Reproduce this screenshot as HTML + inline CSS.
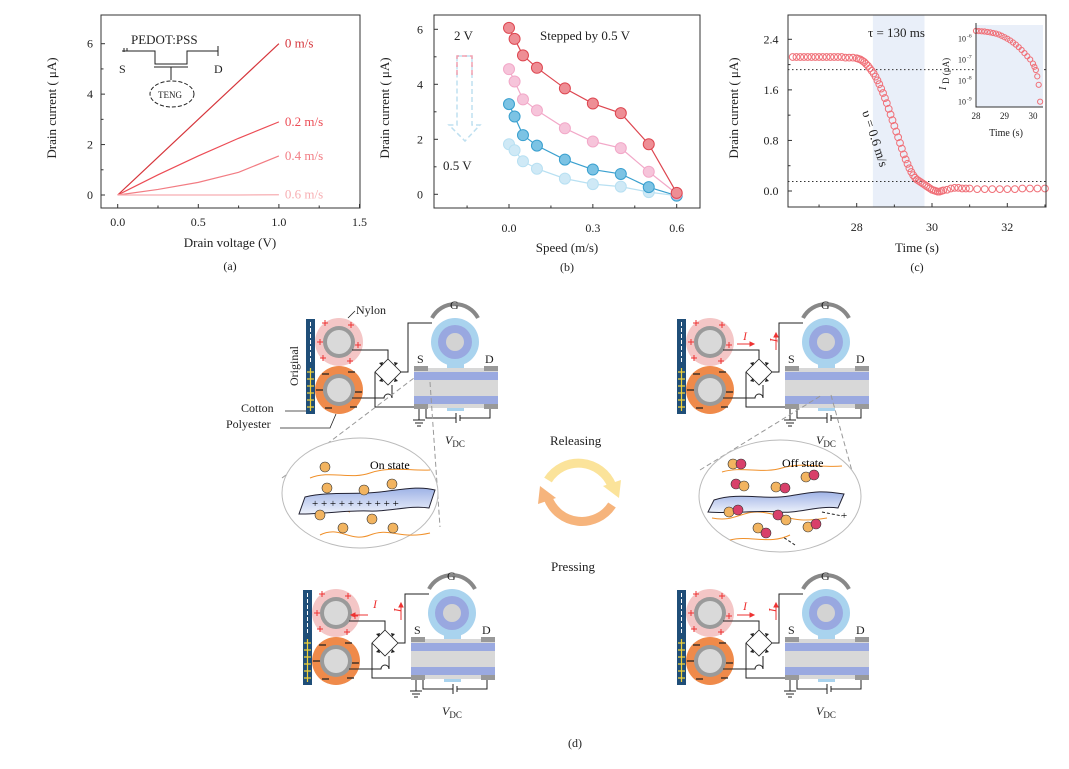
<!DOCTYPE html>
<html><head><meta charset="utf-8"><style>
html,body{margin:0;padding:0;background:#fff;}
svg{display:block;font-family:"Liberation Serif",serif;}
</style></head><body>
<svg id="fig" width="1069" height="769" viewBox="0 0 1069 769" xmlns="http://www.w3.org/2000/svg">
<defs>
<linearGradient id="rib" x1="0" y1="0" x2="0" y2="1"><stop offset="0" stop-color="#9fb3e6"/><stop offset="1" stop-color="#eef2fb"/></linearGradient>
<g id="unit">
  <rect x="306" y="319" width="9" height="95" fill="#1f4e78"/>
  <line x1="310.5" y1="322" x2="310.5" y2="364" stroke="#fff" stroke-width="1" stroke-dasharray="4,2"/>
  <path d="M310.5 368V411M307 372h7M307 379h7M307 386h7M307 393h7M307 400h7M307 407h7" stroke="#f2d33a" stroke-width="1.2"/>
  <circle cx="339" cy="342" r="24" fill="#f4c6c6"/><circle cx="339" cy="342" r="16" fill="#9a9a9a"/><circle cx="339" cy="342" r="12" fill="#d9d9d9"/>
  <path d="M322 323h6M325 320v6M348 325h6M351 322v6M317 342h6M320 339v6M355 345h6M358 342v6M320 358h6M323 355v6M347 361h6M350 358v6" stroke="#e33" stroke-width="1"/>
  <circle cx="339" cy="390" r="24" fill="#ef8a4a"/><circle cx="339" cy="390" r="16" fill="#9a9a9a"/><circle cx="339" cy="390" r="12" fill="#d9d9d9"/>
  <path d="M322 374h7M348 372h7M316 390h7M355 392h7M325 408h7M350 407h7" stroke="#222" stroke-width="1.3"/>
  <path d="M352 350H388V359M352 398H384a4 4 0 0 1 8 0V385M375 372V407H414M401 372H408V323H432" stroke="#222" stroke-width="1" fill="none"/>
  <path d="M388 359L401 372L388 385L375 372Z" stroke="#222" stroke-width="0.8" fill="none"/>
  <path d="M379 363l4 -1 -1 4zM394 362l4 1 -3 3zM379 381l4 1 -1 -4zM394 382l4 -1 -3 -3z" fill="#222"/>
  <path d="M432 318A26 26 0 0 1 478 318" stroke="#888" stroke-width="4" fill="none"/>
  <circle cx="455" cy="342" r="24" fill="#a9d3ee"/><circle cx="455" cy="342" r="17" fill="#99a8e0"/><circle cx="455" cy="342" r="9" fill="#d3d3d3"/>
  <rect x="447" y="364" width="17" height="8" fill="#a9d3ee"/>
  <rect x="447" y="404" width="17" height="7" fill="#a9d3ee"/>
  <rect x="414" y="368" width="84" height="40" fill="#d8d8d8"/>
  <rect x="414" y="372" width="84" height="8" fill="#9aa9e0"/>
  <rect x="414" y="396" width="84" height="8" fill="#9aa9e0"/>
  <rect x="414" y="366" width="14" height="5" fill="#999"/><rect x="484" y="366" width="14" height="5" fill="#999"/>
  <rect x="414" y="404" width="14" height="5" fill="#999"/><rect x="484" y="404" width="14" height="5" fill="#999"/>
  <path d="M419 409V420M413 420h12M415 423h8M417 426h4M426 409V418H456M460 418H490V409M456 413v10M460 415v6" stroke="#222" stroke-width="1" fill="none"/>
</g>
</defs>

<use href="#unit"/>
<use href="#unit" transform="translate(371,0)"/>
<use href="#unit" transform="translate(-3,271)"/>
<use href="#unit" transform="translate(371,271)"/>

<g font-size="12" fill="#222">
  <text x="417" y="363">S</text><text x="485" y="363">D</text><text x="450" y="309">G</text>
  <text x="788" y="363">S</text><text x="856" y="363">D</text><text x="821" y="309">G</text>
  <text x="414" y="634">S</text><text x="482" y="634">D</text><text x="447" y="580">G</text>
  <text x="788" y="634">S</text><text x="856" y="634">D</text><text x="821" y="580">G</text>
  <text x="445" y="444" font-style="italic">V<tspan font-size="9" font-style="normal" dy="3">DC</tspan></text>
  <text x="816" y="444" font-style="italic">V<tspan font-size="9" font-style="normal" dy="3">DC</tspan></text>
  <text x="442" y="715" font-style="italic">V<tspan font-size="9" font-style="normal" dy="3">DC</tspan></text>
  <text x="816" y="715" font-style="italic">V<tspan font-size="9" font-style="normal" dy="3">DC</tspan></text>
  <text x="356" y="314">Nylon</text>
  <text x="241" y="412">Cotton</text>
  <text x="226" y="428">Polyester</text>
  <text transform="translate(298,386) rotate(-90)">Original</text>
</g>
<path d="M348 318L355 311M285 411H306M280 428H330L336 414" stroke="#222" stroke-width="0.8" fill="none"/>

<g stroke="#e33" fill="#e33" stroke-width="1" font-size="12" font-style="italic">
  <path d="M737 344H754" /><path d="M754 344l-4 -2v4z"/><text x="743" y="340" stroke="none">I</text>
  <path d="M776 350V333"/><path d="M776 333l-2 4h4z"/><text transform="translate(770,338) rotate(90)" stroke="none">I</text>
  <path d="M368 615H351"/><path d="M351 615l4 -2v4z"/><text x="373" y="608" stroke="none">I</text>
  <path d="M401 620V603"/><path d="M401 603l-2 4h4z"/><text transform="translate(394,608) rotate(90)" stroke="none">I</text>
  <path d="M737 615H754"/><path d="M754 615l-4 -2v4z"/><text x="743" y="610" stroke="none">I</text>
  <path d="M776 620V603"/><path d="M776 603l-2 4h4z"/><text transform="translate(769,608) rotate(90)" stroke="none">I</text>
</g>

<g>
  <path d="M282 478L414 378M430 382L440 527" stroke="#999" stroke-dasharray="5,3" fill="none"/>
  <ellipse cx="360" cy="493" rx="78" ry="55" fill="#fff" stroke="#bbb"/>
  <path d="M310 478c20 -8 40 2 60 -5s40 -2 60 -3M320 535c20 -10 30 8 50 0s30 5 60 -2M300 512c20 -2 30 -8 50 0" stroke="#f0902a" fill="none"/>
  <path d="M305 497c25 -6 50 -2 75 -5s40 -6 55 -2l-6 18c-20 -3 -40 4 -60 3s-45 3 -70 3z" fill="url(#rib)" stroke="#223"/>
  <text x="312" y="507" font-size="11">+ + + + + + + + + +</text>
  <text x="370" y="469" font-size="12">On state</text>
  <g fill="#f2b460" stroke="#333" stroke-width="0.6">
    <circle cx="325" cy="467" r="5"/><circle cx="327" cy="488" r="5"/><circle cx="364" cy="490" r="5"/><circle cx="392" cy="484" r="5"/>
    <circle cx="320" cy="515" r="5"/><circle cx="343" cy="528" r="5"/><circle cx="372" cy="519" r="5"/><circle cx="393" cy="528" r="5"/>
  </g>
</g>
<g>
  <path d="M700 470L822 395M831 395L860 500" stroke="#999" stroke-dasharray="5,3" fill="none"/>
  <ellipse cx="780" cy="496" rx="81" ry="56" fill="#fff" stroke="#bbb"/>
  <path d="M722 472c20 -6 40 2 60 -4s40 0 60 -2M712 518c25 5 30 -10 55 -5s30 10 60 5M730 540c20 -5 40 5 60 -5" stroke="#f0902a" fill="none"/>
  <path d="M714 500c25 -8 50 0 75 -4s30 -6 55 -2l-6 14c-20 -3 -40 6 -60 4s-45 2 -70 0z" fill="url(#rib)" stroke="#223"/>
  <text x="782" y="467" font-size="12">Off state</text>
  <path d="M822 512l20 4M795 545l-12 -8" stroke="#222" stroke-dasharray="3,2" fill="none"/>
  <text x="841" y="519" font-size="11">+</text>
  <g stroke="#333" stroke-width="0.6">
    <circle cx="733" cy="464" r="5" fill="#f2b460"/><circle cx="741" cy="464" r="5" fill="#d8406a"/>
    <circle cx="736" cy="484" r="5" fill="#d8406a"/><circle cx="744" cy="486" r="5" fill="#f2b460"/>
    <circle cx="776" cy="487" r="5" fill="#f2b460"/><circle cx="785" cy="488" r="5" fill="#d8406a"/>
    <circle cx="806" cy="477" r="5" fill="#f2b460"/><circle cx="814" cy="475" r="5" fill="#d8406a"/>
    <circle cx="729" cy="512" r="5" fill="#f2b460"/><circle cx="738" cy="510" r="5" fill="#d8406a"/>
    <circle cx="778" cy="515" r="5" fill="#d8406a"/><circle cx="786" cy="520" r="5" fill="#f2b460"/>
    <circle cx="758" cy="528" r="5" fill="#f2b460"/><circle cx="766" cy="533" r="5" fill="#d8406a"/>
    <circle cx="808" cy="527" r="5" fill="#f2b460"/><circle cx="816" cy="524" r="5" fill="#d8406a"/>
  </g>
</g>

<g>
  <path d="M548 480A36 36 0 0 1 612 486" stroke="#fbe39a" stroke-width="9" fill="none"/>
  <path d="M603 486l18 -6 -2 18z" fill="#fbe39a"/>
  <path d="M612 505A36 36 0 0 1 548 498" stroke="#f6b47c" stroke-width="9" fill="none"/>
  <path d="M556 498l-18 6 2 -18z" fill="#f6b47c"/>
  <text x="550" y="445" font-size="13" fill="#222">Releasing</text>
  <text x="551" y="571" font-size="13" fill="#222">Pressing</text>
  <text x="568" y="747" font-size="12" fill="#222">(d)</text>
</g>

<g id="charts"></g>
</svg>
<script>
const aVolt = [0, 0.25, 0.5, 0.75, 1.0];
const aS0 = [0, 1.5, 3.0, 4.5, 6.0];
const aS02 = [0, 0.8, 1.55, 2.25, 2.9];
const aS04 = [0, 0.22, 0.5, 0.9, 1.55];
const aS06 = [0, 0, 0, 0, 0.01];
const aLabels = ["0 m/s", "0.2 m/s", "0.4 m/s", "0.6 m/s"];
const aXTicks = [0.0, 0.5, 1.0, 1.5];
const aYTicks = [0, 2, 4, 6];
const bSpeed = [0, 0.02, 0.05, 0.1, 0.2, 0.3, 0.4, 0.5, 0.6];
const b2V = [6.05, 5.65, 5.05, 4.6, 3.85, 3.3, 2.95, 1.82, 0.05];
const b15V = [4.55, 4.1, 3.45, 3.05, 2.4, 1.92, 1.68, 0.82, 0.02];
const b1V = [3.28, 2.83, 2.15, 1.77, 1.26, 0.9, 0.74, 0.26, -0.05];
const b05V = [1.82, 1.6, 1.2, 0.93, 0.57, 0.37, 0.28, 0.08, -0.05];
const bXTicks = [0.0, 0.3, 0.6];
const bYTicks = [0, 2, 4, 6];
const cTime = [26.3,26.4,26.5,26.6,26.7,26.8,26.9,27.0,27.1,27.2,27.3,27.4,27.5,27.6,27.7,27.8,27.9,28.0,
28.05,28.1,28.15,28.2,28.25,28.3,28.35,28.4,28.45,28.5,28.55,28.6,28.65,28.7,28.75,28.8,28.85,28.9,28.95,29.0,
29.05,29.1,29.15,29.2,29.25,29.3,29.35,29.4,29.45,29.5,29.55,29.6,29.65,29.7,29.75,29.8,29.85,29.9,29.95,30.0,
30.05,30.1,30.15,30.2,30.25,30.3,30.4,30.5,30.6,30.7,30.8,30.9,31.0,31.2,31.4,31.6,31.8,32.0,32.2,32.4,32.6,32.8,33.0];
const cCurrent = [2.12,2.12,2.12,2.12,2.12,2.12,2.12,2.12,2.12,2.12,2.12,2.12,2.12,2.12,2.11,2.11,2.11,2.10,
2.09,2.08,2.06,2.04,2.01,1.98,1.94,1.90,1.86,1.81,1.75,1.69,1.62,1.55,1.47,1.39,1.30,1.21,1.12,1.03,
0.94,0.85,0.76,0.67,0.58,0.50,0.43,0.36,0.30,0.25,0.21,0.18,0.16,0.14,0.12,0.10,0.08,0.06,0.04,0.02,
0.01,0.0,-0.01,-0.01,0.0,0.01,0.02,0.04,0.05,0.05,0.04,0.04,0.04,0.03,0.03,0.03,0.03,0.03,0.03,0.04,0.04,0.04,0.04];
const cXTicks = [28, 30, 32];
const cYTicks = [0.0, 0.8, 1.6, 2.4];
const cThresh = [1.92, 0.15];
const cShade = [28.43, 29.8];
const iTime = [28.0,28.1,28.2,28.3,28.4,28.5,28.6,28.7,28.8,28.9,29.0,29.1,29.2,29.3,29.4,29.5,29.6,29.7,29.8,29.9,30.0,30.05,30.1,30.15,30.2,30.25];
const iLog = [-5.65,-5.66,-5.67,-5.68,-5.7,-5.72,-5.75,-5.78,-5.82,-5.88,-5.95,-6.02,-6.1,-6.2,-6.3,-6.42,-6.55,-6.7,-6.85,-7.0,-7.2,-7.35,-7.5,-7.8,-8.2,-9.0];
const iXTicks = [28, 29, 30];
const iYTicks = [-6, -7, -8, -9];

const NS = "http://www.w3.org/2000/svg";
const root = document.getElementById("charts");
function mk(tag, attrs, parent) {
  const e = document.createElementNS(NS, tag);
  for (const k in attrs) e.setAttribute(k, attrs[k]);
  (parent || root).appendChild(e);
  return e;
}
function txt(s, x, y, attrs, parent) {
  const t = mk("text", Object.assign({x: x, y: y, "font-size": 12, fill: "#222"}, attrs || {}), parent);
  t.textContent = s;
  return t;
}
function lin(d0, d1, r0, r1) { return v => r0 + (v - d0) * (r1 - r0) / (d1 - d0); }

(function () {
  const g = mk("g", {});
  
  
  const X = lin(0, 1.5, 117.7, 359.5), Y = lin(0, 6, 195, 43.7);
  const fr = mk("rect", {x: 101, y: 15, width: 259, height: 193, fill: "none", stroke: "#333", "stroke-width": 1}, g);
  
  
  for (let v = 0; v <= 1.5001; v += 0.25) {
    const t = mk("line", {x1: X(v), x2: X(v), y1: 208, y2: aXTicks.some(q => Math.abs(q - v) < 1e-6) ? 204 : 205.5, stroke: "#333"}, g);
    
    
  }
  aXTicks.forEach(v => { const t = txt(v.toFixed(1), X(v), 226, {"text-anchor": "middle"}, g);   });
  for (let v = 0; v <= 6; v += 1) {
    const t = mk("line", {x1: 101, x2: v % 2 === 0 ? 105 : 103.5, y1: Y(v), y2: Y(v), stroke: "#333"}, g);
    
    
  }
  aYTicks.forEach(v => { const t = txt(String(v), 90, Y(v) + 4, {"text-anchor": "middle"}, g);   });
  const xl = txt("Drain voltage (V)", 230, 247, {"text-anchor": "middle", "font-size": 13}, g);
  
  
  const yl = txt("Drain current ( μA)", 0, 0, {"text-anchor": "middle", "font-size": 13, transform: "translate(56,108) rotate(-90)"}, g);
  
  
  const pl = txt("(a)", 230, 270, {"text-anchor": "middle"}, g);
  
  
  const series = [aS0, aS02, aS04, aS06];
  const cols = ["#d6363c", "#ec4c55", "#f27c83", "#f7aeb2"];
  series.forEach((s, i) => {
    const p = mk("polyline", {points: s.map((v, j) => X(aVolt[j]) + "," + Y(v)).join(" "), fill: "none", stroke: cols[i], "stroke-width": 1.2}, g);
    
    
    const l = txt(aLabels[i], X(1.0) + 6, Y(s[s.length - 1]) + 4, {fill: cols[i], "font-size": 13}, g);
    
    
  });
  const sc = mk("path", {d: "M124 52V48M122 51h5V48M124 51H155V64H187V51H218M218 46V56M154 67H188M171 67V80", stroke: "#222", fill: "none", "stroke-width": 1}, g);
  
  
  const el = mk("ellipse", {cx: 172, cy: 94, rx: 22, ry: 13, fill: "none", stroke: "#222", "stroke-dasharray": "4,2"}, g);
  
  
  [["PEDOT:PSS", 131, 44, 13], ["S", 119, 73, 12], ["D", 214, 73, 12], ["TENG", 158, 98, 9]].forEach(a => {
    const t = txt(a[0], a[1], a[2], {"font-size": a[3]}, g);
    
    
  });
})();

(function () {
  const g = mk("g", {});
  
  
  const X = lin(0, 0.6, 509, 676.7), Y = lin(0, 6, 194.3, 29.3);
  const fr = mk("rect", {x: 434, y: 15, width: 266, height: 193, fill: "none", stroke: "#333"}, g);
  
  
  for (let k = -1; k <= 4; k++) {
    const v = k * 0.15;
    const t = mk("line", {x1: X(v), x2: X(v), y1: 208, y2: k % 2 === 0 ? 204 : 205.5, stroke: "#333"}, g);
    
    
  }
  bXTicks.forEach(v => { const t = txt(v.toFixed(1), X(v), 232, {"text-anchor": "middle"}, g);   });
  for (let v = 0; v <= 6; v++) {
    const t = mk("line", {x1: 434, x2: v % 2 === 0 ? 438 : 436.5, y1: Y(v), y2: Y(v), stroke: "#333"}, g);
    
    
  }
  bYTicks.forEach(v => { const t = txt(String(v), 420, Y(v) + 4, {"text-anchor": "middle"}, g);   });
  const xl = txt("Speed (m/s)", 567, 252, {"text-anchor": "middle", "font-size": 13}, g);
  
  
  const yl = txt("Drain current ( μA)", 0, 0, {"text-anchor": "middle", "font-size": 13, transform: "translate(389,108) rotate(-90)"}, g);
  
  
  const pl = txt("(b)", 567, 271, {"text-anchor": "middle"}, g);
  
  
  const series = [b05V, b1V, b15V, b2V];
  const names = ["0.5V", "1V", "1.5V", "2V"];
  const lc = ["#b8e0f2", "#3aa0cf", "#f2a8c8", "#dd4650"];
  const fc = ["#cfe9f6", "#7cc3e4", "#f6c4da", "#ee8e95"];
  series.forEach((s, i) => {
    const p = mk("polyline", {points: s.map((v, j) => X(bSpeed[j]) + "," + Y(v)).join(" "), fill: "none", stroke: lc[i], "stroke-width": 1.2}, g);
    
    
    s.forEach((v, j) => {
      const c = mk("circle", {cx: X(bSpeed[j]), cy: Y(v), r: 5.5, fill: fc[i], stroke: lc[i], "stroke-width": 1}, g);
      
      
    });
  });
  const t1 = txt("Stepped by 0.5 V", 540, 40, {"font-size": 13}, g);
  
  
  const t2 = txt("2 V", 454, 40, {"font-size": 13}, g);
  
  
  const t3 = txt("0.5 V", 443, 170, {"font-size": 13}, g);
  
  
  const ar = mk("path", {d: "M457 56H472V125H480L465 141L449 125H457Z", fill: "none", stroke: "#bfe0f0", "stroke-width": 1.5, "stroke-dasharray": "5,3"}, g);
  
  
  const ar2 = mk("path", {d: "M457 75V56H472V75", fill: "none", stroke: "#f2a0b0", "stroke-width": 1.5, "stroke-dasharray": "5,3"}, g);
  
  
})();

(function () {
  const g = mk("g", {});
  
  
  const X = lin(28, 32, 856.7, 1007.3), Y = lin(0, 2.4, 191, 39.3);
  const sh = mk("rect", {x: X(cShade[0]), y: 15, width: X(cShade[1]) - X(cShade[0]), height: 192, fill: "#e9eff9"}, g);
  
  
  cThresh.forEach(v => {
    const l = mk("line", {x1: 788, x2: 1046, y1: Y(v), y2: Y(v), stroke: "#333", "stroke-dasharray": "1.5,2.5"}, g);
    
    
  });
  cTime.forEach((t, j) => {
    const c = mk("circle", {cx: X(t), cy: Y(cCurrent[j]), r: 3.4, fill: "none", stroke: "#f07078", "stroke-width": 1}, g);
    
    
  });
  const fr = mk("rect", {x: 788, y: 15, width: 258, height: 192, fill: "none", stroke: "#333"}, g);
  
  
  for (let v = 27; v <= 33; v++) {
    const t = mk("line", {x1: X(v), x2: X(v), y1: 207, y2: v % 2 === 0 ? 203 : 204.5, stroke: "#333"}, g);
    
    
  }
  cXTicks.forEach(v => { const t = txt(String(v), X(v), 231, {"text-anchor": "middle"}, g);   });
  for (let k = 0; k <= 6; k++) {
    const v = k * 0.4;
    const t = mk("line", {x1: 788, x2: k % 2 === 0 ? 792 : 790.5, y1: Y(v), y2: Y(v), stroke: "#333"}, g);
    
    
  }
  cYTicks.forEach(v => { const t = txt(v.toFixed(1), 771, Y(v) + 4, {"text-anchor": "middle"}, g);   });
  const xl = txt("Time (s)", 917, 252, {"text-anchor": "middle", "font-size": 13}, g);
  
  
  const yl = txt("Drain current ( μA)", 0, 0, {"text-anchor": "middle", "font-size": 13, transform: "translate(738,108) rotate(-90)"}, g);
  
  
  const pl = txt("(c)", 917, 271, {"text-anchor": "middle"}, g);
  
  
  const tau = txt("τ = 130 ms", 868, 37, {"font-size": 13}, g);
  
  
  const sp = txt("υ = 0.6 m/s", 0, 0, {"font-size": 13, transform: "translate(862,112) rotate(72)"}, g);
  
  
  const IX = lin(28, 30, 976, 1033), IY = lin(-6, -9, 38.3, 101.7);
  const ib = mk("rect", {x: 976, y: 25, width: 67, height: 82, fill: "#e9eff9"}, g);
  
  
  iTime.forEach((t, j) => {
    const c = mk("circle", {cx: IX(t), cy: IY(iLog[j]), r: 2.6, fill: "none", stroke: "#f07078", "stroke-width": 1}, g);
    
    
  });
  const ax = mk("path", {d: "M976 23V107H1043", fill: "none", stroke: "#333"}, g);
  
  
  iXTicks.forEach(v => {
    const t = txt(String(v), IX(v), 119, {"text-anchor": "middle", "font-size": 9}, g);
    
    
  });
  iYTicks.forEach(v => {
    const t = txt("10", 958, IY(v) + 3, {"font-size": 8}, g);
    
    
    const e = txt(String(v), 967, IY(v) - 1, {"font-size": 5.5}, g);
    
    
  });
  const ixl = txt("Time (s)", 1006, 136, {"text-anchor": "middle", "font-size": 10}, g);
  
  
  const iyl = txt("I", 0, 0, {"font-size": 10, "font-style": "italic", transform: "translate(946,90) rotate(-90)"}, g);
  
  
  const iyl2 = txt("D (μA)", 0, 0, {"font-size": 9, transform: "translate(949,84) rotate(-90)"}, g);
  
  
})();
</script>
</body></html>
